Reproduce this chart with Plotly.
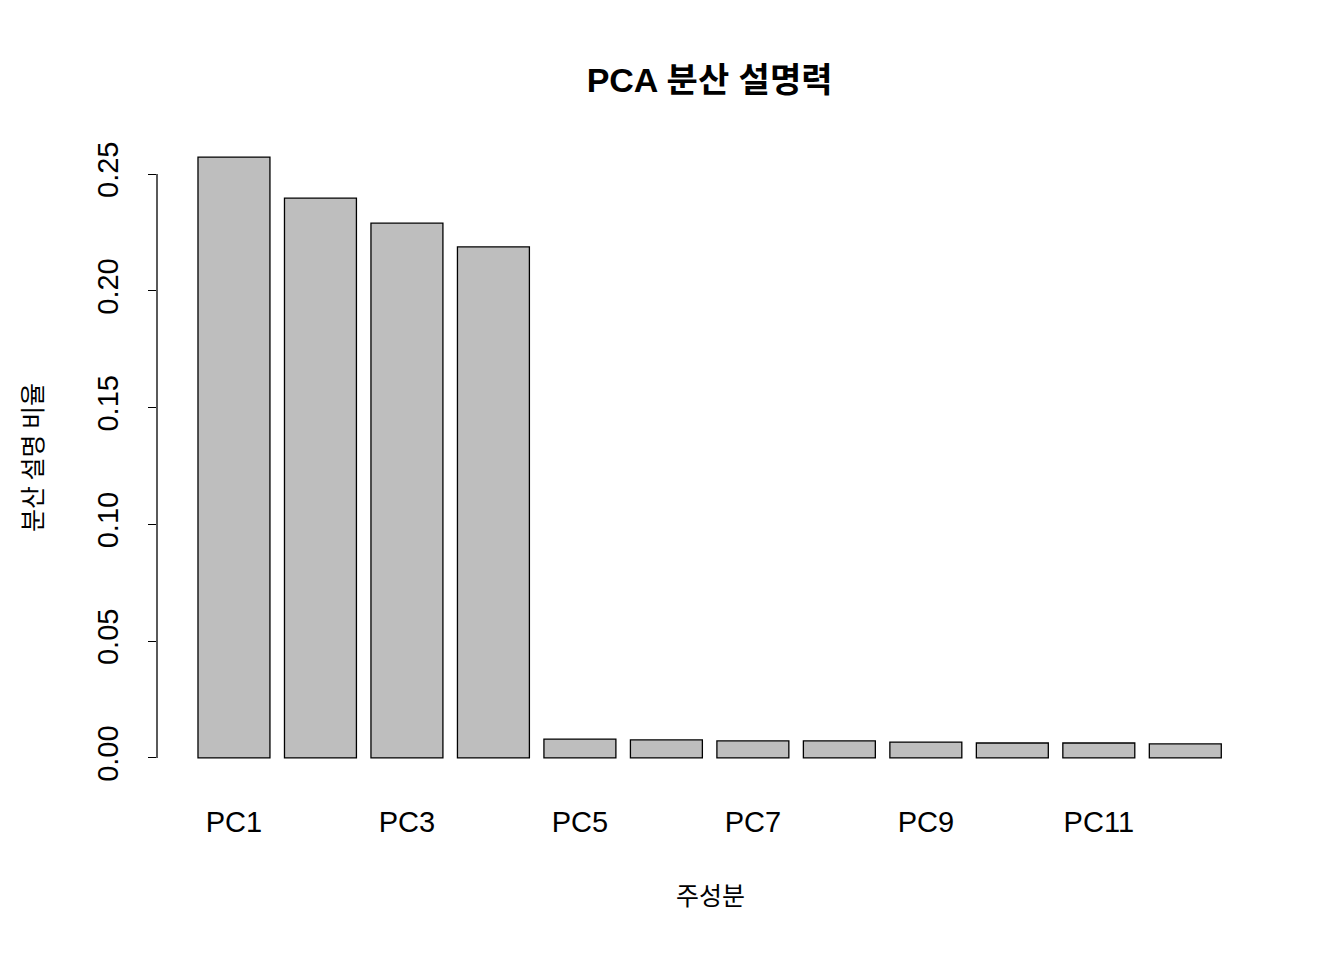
import plotly.graph_objects as go

components = ["PC1", "PC2", "PC3", "PC4", "PC5", "PC6",
              "PC7", "PC8", "PC9", "PC10", "PC11", "PC12"]
variance_ratio = [0.2573, 0.2397, 0.2290, 0.2188, 0.0081, 0.0077,
                  0.0073, 0.0073, 0.0068, 0.0064, 0.0064, 0.0060]
y_ticks = [0, 0.05, 0.10, 0.15, 0.20, 0.25]
y_tick_labels = ["0.00", "0.05", "0.10", "0.15", "0.20", "0.25"]

fig = go.Figure(go.Bar(
    x=components, y=variance_ratio, width=0.832,
    marker=dict(color="#bebebe", line=dict(color="black", width=1.3)),
))

fig.update_layout(
    width=1344, height=960,
    plot_bgcolor="white", paper_bgcolor="white",
    margin=dict(l=149, r=88, t=125, b=186),
    showlegend=False,
    font=dict(family="Liberation Sans, Arial", color="black"),
    title=dict(text="<b>PCA 분산 설명력</b>", x=0.522, xanchor="center",
               y=1 - 72 / 960, yanchor="middle",
               font=dict(size=34, family="Liberation Sans, Noto Sans CJK KR")),
)
fig.update_xaxes(
    type="category", range=[-0.89, 11.91],
    tickvals=components[::2], ticks="", showline=False, showgrid=False,
    tickfont=dict(size=29), ticklabelstandoff=20,
    title=dict(text="주성분", font=dict(size=25, family="Noto Sans CJK KR"),
               standoff=50),
)
fig.update_yaxes(
    range=[-0.0103, 0.2676], tickvals=y_ticks, ticktext=y_tick_labels,
    ticks="outside", ticklen=8, tickcolor="black", tickangle=-90,
    showline=False, showgrid=False, zeroline=False,
    tickfont=dict(size=29), ticklabelstandoff=18,
    title=dict(text="분산 설명 비율", font=dict(size=25, family="Noto Sans CJK KR"),
               standoff=42),
)
fig.add_shape(type="line", xref="paper", yref="y", x0=0, x1=0, y0=0, y1=0.25,
              line=dict(color="black", width=1.3))

fig.write_html("out.html")
